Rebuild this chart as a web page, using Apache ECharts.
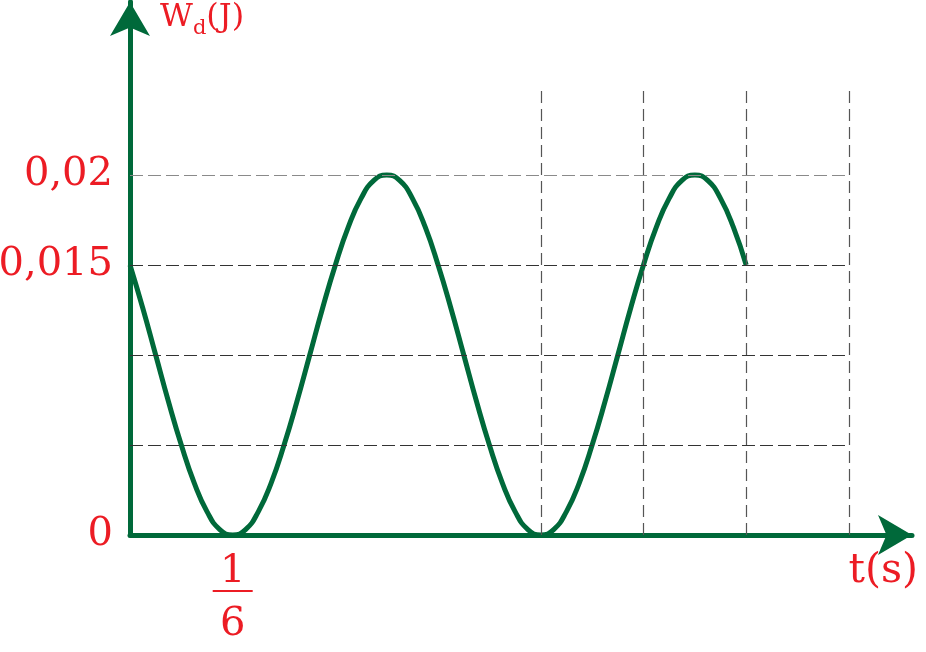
<!DOCTYPE html>
<html>
<head>
<meta charset="utf-8">
<title>Wd(t)</title>
<script src="https://cdn.jsdelivr.net/npm/echarts@6/dist/echarts.min.js"></script>
<style>
  html, body { margin: 0; padding: 0; background: #fff; }
  #chart { width: 926px; height: 652px; }
</style>
</head>
<body>
<div id="chart"></div>
<script>
// curve, one sample every 1/48 s
var times = [0, 0.0208, 0.0417, 0.0625, 0.0833, 0.1042, 0.125, 0.1458, 0.1667,
  0.1875, 0.2083, 0.2292, 0.25, 0.2708, 0.2917, 0.3125, 0.3333, 0.3542, 0.375,
  0.3958, 0.4167, 0.4375, 0.4583, 0.4792, 0.5, 0.5208, 0.5417, 0.5625, 0.5833,
  0.6042, 0.625, 0.6458, 0.6667, 0.6875, 0.7083, 0.7292, 0.75, 0.7708, 0.7917,
  0.8125, 0.8333, 0.8542, 0.875, 0.8958, 0.9167, 0.9375, 0.9583, 0.9792, 1];
var energy = [0.015, 0.0126, 0.010, 0.0074, 0.005, 0.0029, 0.0013, 0.0003, 0,
  0.0003, 0.0013, 0.0029, 0.005, 0.0074, 0.010, 0.0126, 0.015, 0.0171, 0.0187,
  0.0197, 0.020, 0.0197, 0.0187, 0.0171, 0.015, 0.0126, 0.010, 0.0074, 0.005,
  0.0029, 0.0013, 0.0003, 0, 0.0003, 0.0013, 0.0029, 0.005, 0.0074, 0.010,
  0.0126, 0.015, 0.0171, 0.0187, 0.0197, 0.020, 0.0197, 0.0187, 0.0171, 0.015];

// dashed guide lines
var gridTimes = [4 / 6, 5 / 6, 1, 7 / 6];
var gridLevels = [0.005, 0.01, 0.015, 0.02];
var gridTop = 0.0248;
var gridRight = 7 / 6;

// tick labels
var yTickValues = [0, 0.015, 0.02];
var yTickLabels = ['0', '0,015', '0,02'];
var xTickValue = 1 / 6;

var green = '#00693a';
var red = '#ec1c24';
var serif = 'DejaVu Serif';

var points = times.map(function (t, i) { return [t, energy[i]]; });

var guides = [];
gridLevels.forEach(function (v) {
  guides.push([
    { coord: [0, v], lineStyle: { color: v === 0.02 ? '#8a8a8a' : '#333', width: 1.2, type: [13, 5] } },
    { coord: [gridRight, v] }
  ]);
});
gridTimes.forEach(function (t) {
  guides.push([
    { coord: [t, 0], lineStyle: { color: '#555', width: 1.2, type: [12, 6] } },
    { coord: [t, gridTop] }
  ]);
});

var chart = echarts.init(document.getElementById('chart'));
chart.setOption({
  animation: false,
  grid: { left: 130, right: 14, top: 2, bottom: 117, outerBoundsMode: 'none' },
  xAxis: {
    type: 'value',
    min: 0,
    max: 1.2691,
    interval: 1 / 6,
    splitLine: { show: false },
    axisTick: { show: false },
    axisLine: {
      symbol: ['none', 'arrow'],
      symbolSize: [30, 34],
      lineStyle: { color: green, width: 5 }
    },
    axisLabel: {
      margin: 22,
      formatter: function (v) {
        return Math.abs(v - xTickValue) < 1e-6 ? '{a|1}\n{bar| }\n{b|6}' : '';
      },
      rich: {
        a: { fontFamily: serif, fontSize: 40, color: red, lineHeight: 30, align: 'center' },
        bar: { width: 40, height: 2, lineHeight: 8, fontSize: 2, backgroundColor: red, align: 'center' },
        b: { fontFamily: serif, fontSize: 40, color: red, lineHeight: 60, align: 'center' }
      }
    },
    name: 't(s)',
    nameLocation: 'end',
    nameGap: 6,
    nameTextStyle: {
      fontFamily: serif, fontSize: 41, color: red,
      align: 'right', verticalAlign: 'top', padding: [16, 0, 0, 0]
    }
  },
  yAxis: {
    type: 'value',
    min: 0,
    max: 0.02961,
    interval: 0.005,
    splitLine: { show: false },
    axisTick: { show: false },
    axisLine: {
      symbol: ['none', 'arrow'],
      symbolSize: [30, 34],
      lineStyle: { color: green, width: 5 }
    },
    axisLabel: {
      margin: 17,
      fontFamily: serif,
      fontSize: 40,
      color: red,
      formatter: function (v) {
        for (var i = 0; i < yTickValues.length; i++) {
          if (Math.abs(v - yTickValues[i]) < 1e-7) return yTickLabels[i];
        }
        return '';
      }
    },
    name: '{w|W}{s|d}{w|(J)}',
    nameLocation: 'end',
    nameGap: 0,
    nameTextStyle: {
      align: 'left', verticalAlign: 'top', padding: [2, 0, 0, 30],
      rich: {
        w: { fontFamily: serif, fontSize: 32, color: red, lineHeight: 28 },
        s: { fontFamily: serif, fontSize: 21, color: red, lineHeight: 28, padding: [22, 0, 0, 0] }
      }
    }
  },
  series: [
    {
      type: 'line',
      z: 1,
      data: [],
      silent: true,
      markLine: {
        silent: true,
        symbol: 'none',
        label: { show: false },
        data: guides
      }
    },
    {
      type: 'line',
      z: 3,
      data: points,
      smooth: true,
      showSymbol: false,
      lineStyle: { color: green, width: 5 }
    }
  ]
});
</script>
</body>
</html>
